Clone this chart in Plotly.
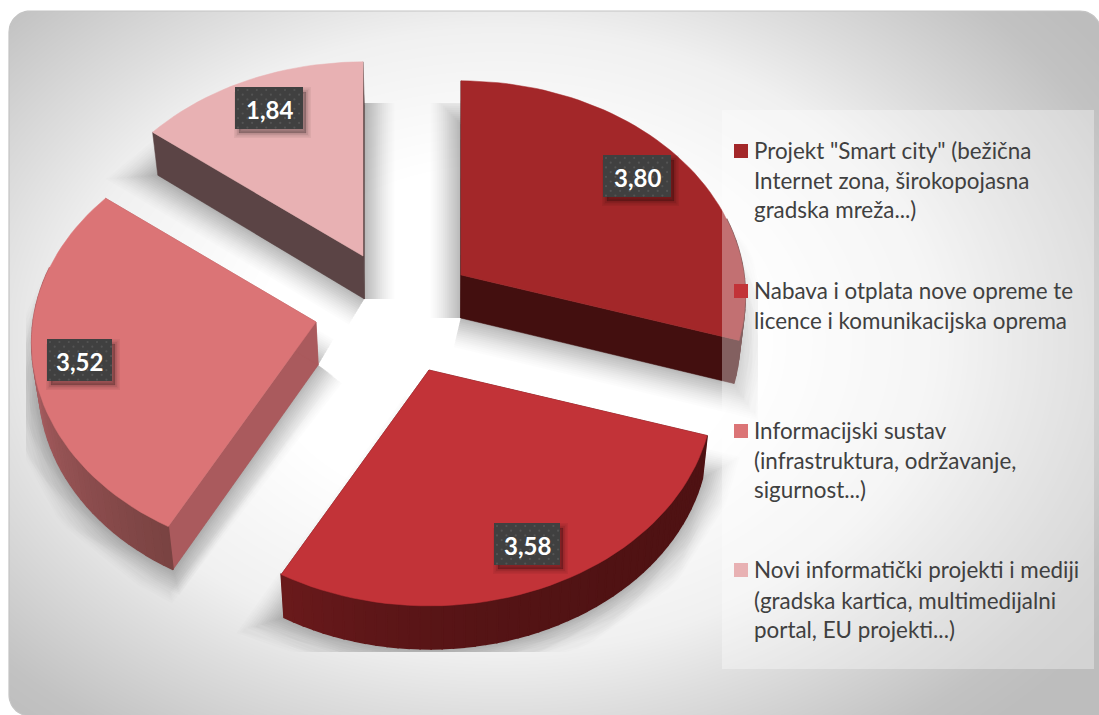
import numpy as np
import plotly.graph_objects as go

# ---- data ----
categories = [
    'Projekt "Smart city" (bežična Internet zona, širokopojasna gradska mreža...)',
    'Nabava i otplata nove opreme te licence i komunikacijska oprema',
    'Informacijski sustav (infrastruktura, održavanje, sigurnost...)',
    'Novi informatički projekti i mediji (gradska kartica, multimedijalni portal, EU projekti...)',
]
values = [3.80, 3.58, 3.52, 1.84]
value_labels = ["3,80", "3,58", "3,52", "1,84"]
legend_lines = [
    ['Projekt "Smart city" (bežična', 'Internet zona, širokopojasna', 'gradska mreža...)'],
    ['Nabava i otplata nove opreme te', 'licence i komunikacijska oprema'],
    ['Informacijski sustav', '(infrastruktura, održavanje,', 'sigurnost...)'],
    ['Novi informatički projekti i mediji', '(gradska kartica, multimedijalni', 'portal, EU projekti...)'],
]

# ---- style / layout ----
W, H = 1099, 715
top_colors = ["#a32729", "#c23338", "#db7476", "#e8b1b3"]
cut_colors = ["#430f0f", "#4f1213", "#aa5a5d", "#5b4445"]
wall_from = ["#430f0f", "#4f1213", "#7a4342", "#5b4445"]
wall_to = ["#430f0f", "#6b1a1c", "#b06266", "#5b4445"]
wall_pow = [1, 3, 1, 1]
wall_span = [1, 1, 0.62, 1]
apex = [(461, 275), (429, 370), (316, 322), (363, 256)]
label_boxes = [(603, 155, 671, 197), (494, 523, 560, 565), (47, 339, 112, 381), (235, 87, 303, 129)]
swatch_y = [144, 284, 424, 563]
line_y = [[150, 180, 209], [290, 320], [430, 460, 489], [569, 600, 629]]
RX, RY, PERSP, DEPTH, XV, BSC = 283, 213, 0.097, 43, 440, 0.982
LEG_FONT = "Lato"


def hex2rgb(h):
    return np.array([int(h[i:i + 2], 16) for i in (1, 3, 5)], float)


def mix(a, b, t):
    c = hex2rgb(a) * (1 - t) + hex2rgb(b) * t
    return "rgb(%d,%d,%d)" % tuple(c.round())


def project(ang, ax, ay):
    u, v = np.sin(ang), -np.cos(ang)
    s = 1 / (1 - PERSP * v)
    return ax + RX * u * s, ay + RY * v * s


def lower(x, y):
    return XV + (np.asarray(x) - XV) * BSC, np.asarray(y) + DEPTH


fig = go.Figure()


def poly(x, y, color, sp="", line=1.0, name=None, lc=None):
    fig.add_trace(go.Scatter(
        x=list(x), y=list(y), mode="lines", fill="toself", fillcolor=color,
        line=dict(color=lc or color, width=line), hoverinfo="skip", showlegend=False,
        xaxis="x" + sp, yaxis="y" + sp, name=name))


# background: soft radial card
gx = np.linspace(0, W, 221)
gy = np.linspace(0, H, 144)
X, Y = np.meshgrid(gx, gy)
d = np.sqrt(((X - 500) / 560) ** 2 + ((Y - 340) / 400) ** 2)
fig.add_trace(go.Heatmap(
    x=gx, y=gy, z=d, zmin=0, zmax=1.3, zsmooth="best", showscale=False, hoverinfo="skip",
    colorscale=[[0, "#ffffff"], [0.33, "#ffffff"], [0.6, "#f0f0f0"], [0.72, "#dedede"], [0.92, "#c2c2c2"], [1, "#bdbdbd"]],
))
# white outside of the rounded card
L, T, R, B, RAD = 9, 11, 1101, 716, 21
arc = np.linspace(0, np.pi / 2, 14)
tl_x, tl_y = L + RAD - RAD * np.cos(arc), T + RAD - RAD * np.sin(arc)
tr_x, tr_y = R - RAD + RAD * np.sin(arc), T + RAD - RAD * np.cos(arc)
bl_x, bl_y = L + RAD - RAD * np.sin(arc[::-1]), B - RAD + RAD * np.cos(arc[::-1])
mask_x, mask_y = [], []
for xs, ys in [
    ([-5, W + 5, W + 5, -5, -5], [-5, -5, T, T, -5]),
    ([-5, L, L, -5, -5], [-5, -5, H + 5, H + 5, -5]),
    (np.r_[L, tl_x, L], np.r_[T, tl_y, T]),
    (np.r_[R, tr_x, R], np.r_[T, tr_y, T]),
    (np.r_[L, bl_x[::-1], L], np.r_[B, bl_y[::-1], B]),
]:
    mask_x += list(xs) + [None]
    mask_y += list(ys) + [None]
fig.add_trace(go.Scatter(x=mask_x, y=mask_y, mode="lines", fill="toself", fillcolor="#ffffff",
                         line=dict(width=0, color="#ffffff"), hoverinfo="skip", showlegend=False))
fig.add_trace(go.Scatter(x=np.r_[bl_x[::-1], tl_x, tr_x], y=np.r_[bl_y[::-1], tl_y, tr_y], mode="lines",
                         line=dict(color="#c4c4c4", width=1.2), hoverinfo="skip", showlegend=False))

# geometry from values
total = sum(values)
angles = np.r_[0, np.cumsum(values)] / total * 2 * np.pi
slices = []
for i in range(len(values)):
    a0, a1 = angles[i], angles[i + 1]
    n = max(8, int(np.degrees(a1 - a0) / 2))
    t = np.linspace(a0, a1, n)
    ax, ay = apex[i]
    px, py = project(t, ax, ay)
    slices.append((t, px, py, ax, ay))

# soft shadows, clipped by the chart rectangle (second subplot)
widths = np.arange(60, 0, -4)
for j, w in enumerate(widths):
    al = 0.010 + 0.018 * j / (len(widths) - 1)
    for (t, px, py, ax, ay) in slices:
        bx, by = lower(np.r_[ax, px, ax], np.r_[ay, py, ay])
        fig.add_trace(go.Scatter(
            x=list(bx), y=list(by), mode="lines", fill="toself",
            fillcolor="rgba(0,0,0,%g)" % al,
            line=dict(color="rgba(0,0,0,%g)" % al, width=int(w)), hoverinfo="skip", showlegend=False,
            xaxis="x2", yaxis="y2"))

# slices, back to front
for i in [3, 0, 2, 1]:
    t, px, py, ax, ay = slices[i]
    bpx, bpy = lower(px, py)
    bax, bay = lower(ax, ay)
    # radial cut faces
    poly([ax, px[0], bpx[0], bax, ax], [ay, py[0], bpy[0], bay, ay], cut_colors[i], "3", line=0.5)
    poly([ax, px[-1], bpx[-1], bax, ax], [ay, py[-1], bpy[-1], bay, ay], cut_colors[i], "3", line=0.5)
    # outer wall
    for k in range(len(t) - 1):
        if -np.cos(t[k + 1]) < -0.25 and -np.cos(t[k]) < -0.25:
            continue
        f = min(1.0, (k / (len(t) - 1)) / wall_span[i]) ** wall_pow[i]
        col = mix(wall_from[i], wall_to[i], f)
        poly([px[k], px[k + 1], bpx[k + 1], bpx[k], px[k]],
             [py[k], py[k + 1], bpy[k + 1], bpy[k], py[k]], col, "3", line=1.6)
    # top face
    poly(np.r_[ax, px, ax], np.r_[ay, py, ay], top_colors[i], "3", line=0.5, name=categories[i])

# translucent legend panel
poly([722, 1094, 1094, 722, 722], [110, 110, 669, 669, 110], "rgba(255,255,255,0.34)", "4", line=0)

# legend swatches
for i, yy in enumerate(swatch_y):
    poly([734, 748, 748, 734, 734], [yy, yy, yy + 14, yy + 14, yy], top_colors[i], "4", line=0)

# value label boxes
for (x0, y0, x1, y1) in label_boxes:
    for wd, al in [(10, 0.05), (7, 0.06), (4, 0.07), (1, 0.08)]:
        fig.add_trace(go.Scatter(
            x=[x0 + 4, x1 + 3, x1 + 3, x0 + 4, x0 + 4], y=[y0 + 5, y0 + 5, y1 + 4, y1 + 4, y0 + 5],
            mode="lines", fill="toself", fillcolor="rgba(0,0,0,%g)" % al,
            line=dict(color="rgba(0,0,0,%g)" % al, width=wd), hoverinfo="skip", showlegend=False,
            xaxis="x4", yaxis="y4"))
    poly([x0, x1, x1, x0, x0], [y0, y0, y1, y1, y0], "#404040", "4", line=0)
    dx, dy = [], []
    for r, yy in enumerate(np.arange(y0 + 3, y1, 4.7)):
        for xx in np.arange(x0 + 3 + (r % 2) * 4.7, x1, 9.4):
            dx.append(xx)
            dy.append(yy)
    fig.add_trace(go.Scatter(x=dx, y=dy, mode="markers", marker=dict(size=2.2, color="#545454", line=dict(width=0)),
                             hoverinfo="skip", showlegend=False, xaxis="x4", yaxis="y4"))

ann = []
for i, (x0, y0, x1, y1) in enumerate(label_boxes):
    ann.append(dict(x=(x0 + x1) / 2, y=(y0 + y1) / 2 + 1, text="<b>%s</b>" % value_labels[i], showarrow=False,
                    xanchor="center", yanchor="middle", xref="x", yref="y",
                    font=dict(family="Lato", size=24, color="#ffffff")))
for lines, ys in zip(legend_lines, line_y):
    for s, yy in zip(lines, ys):
        ann.append(dict(x=752, y=yy, text=s, showarrow=False, xanchor="left", yanchor="middle",
                        xref="x", yref="y", font=dict(family=LEG_FONT, size=22.4, color="#404040")))

hidden = dict(visible=False, fixedrange=True)
CL = (26, 758, 103, 652)  # shadow clip rectangle
fig.update_layout(
    width=W, height=H, margin=dict(l=0, r=0, t=0, b=0),
    paper_bgcolor="#ffffff", plot_bgcolor="rgba(0,0,0,0)", showlegend=False, annotations=ann,
    xaxis=dict(range=[0, W], domain=[0, 1], **hidden),
    yaxis=dict(range=[H, 0], domain=[0, 1], **hidden),
    xaxis2=dict(range=[CL[0], CL[1]], domain=[CL[0] / W, CL[1] / W], anchor="y2", **hidden),
    yaxis2=dict(range=[CL[3], CL[2]], domain=[1 - CL[3] / H, 1 - CL[2] / H], anchor="x2", **hidden),
    xaxis3=dict(range=[0, W], domain=[0, 1], anchor="y3", **hidden),
    yaxis3=dict(range=[H, 0], domain=[0, 1], anchor="x3", **hidden),
    xaxis4=dict(range=[0, W], domain=[0, 1], anchor="y4", **hidden),
    yaxis4=dict(range=[H, 0], domain=[0, 1], anchor="x4", **hidden),
)

fig.write_html("out.html", post_script="document.body.style.margin='0';document.body.style.overflow='hidden';",
               config=dict(displayModeBar=False))
